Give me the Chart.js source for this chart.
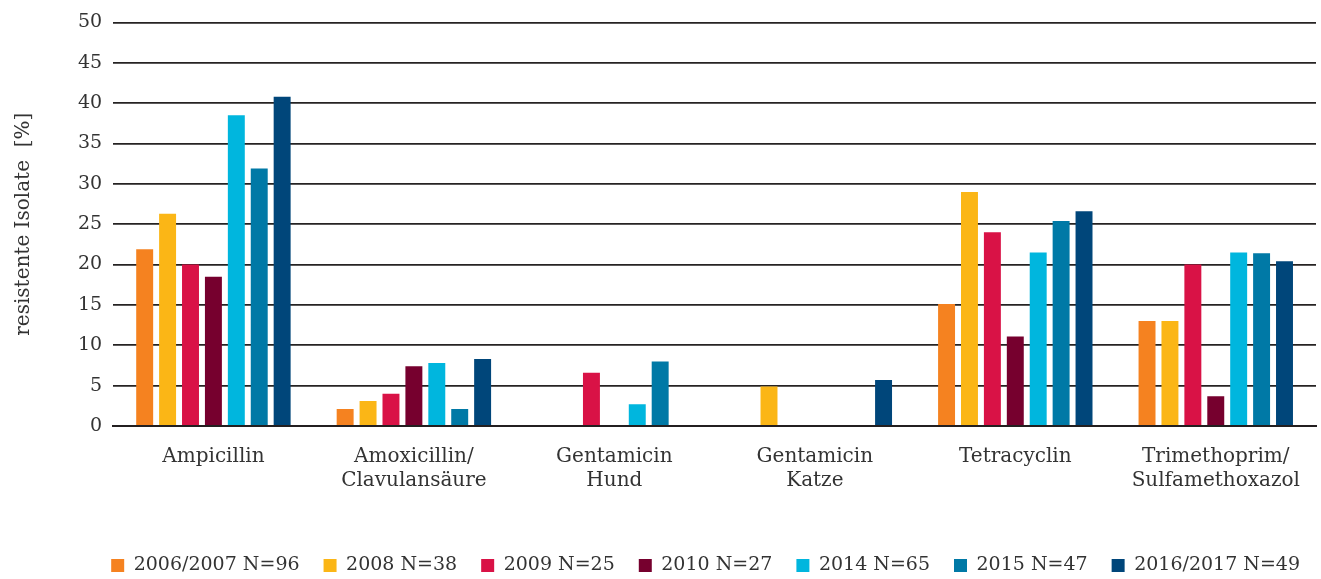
<!DOCTYPE html>
<html>
<head>
<meta charset="utf-8">
<script src="https://cdn.jsdelivr.net/npm/chart.js@4"></script>
<style>
  body { margin: 0; background: #fff; }
  #wrap { width: 1321px; height: 579px; }
</style>
</head>
<body>
<div id="wrap"><canvas id="myChart"></canvas></div>
<script>
// categories (multi-line labels)
let categories = ["Ampicillin", ["Amoxicillin/", "Clavulansäure"], ["Gentamicin", "Hund"], ["Gentamicin", "Katze"], "Tetracyclin", ["Trimethoprim/", "Sulfamethoxazol"]];

// series values, resistant isolates in %
let s2006 = [21.9, 2.1, 0, 0, 15.1, 13.0];
let s2008 = [26.3, 3.1, 0, 4.9, 29.0, 13.0];
let s2009 = [20.0, 4.0, 6.6, 0, 24.0, 20.0];
let s2010 = [18.5, 7.4, 0, 0, 11.1, 3.7];
let s2014 = [38.5, 7.8, 2.7, 0, 21.5, 21.5];
let s2015 = [31.9, 2.1, 8.0, 0, 25.4, 21.4];
let s2016 = [40.8, 8.3, 0, 5.7, 26.6, 20.4];

let seriesNames = ["2006/2007 N=96", "2008 N=38", "2009 N=25", "2010 N=27", "2014 N=65", "2015 N=47", "2016/2017 N=49"];
let colors = ["#F58220", "#FBB616", "#D91246", "#76002E", "#00B6DE", "#0079A6", "#00467A"];
let allSeries = [s2006, s2008, s2009, s2010, s2014, s2015, s2016];

let fontFam = "'DejaVu Serif', serif";
let textCol = "#333333";

let datasets = allSeries.map(function(vals, i){
    return {
        label: seriesNames[i],
        data: vals,
        backgroundColor: colors[i],
        categoryPercentage: 0.8,
        barPercentage: 0.74
    };
});

// nudge the legend a little to the right, like the original
let legendShift = {
    id: "legendShift",
    afterLayout: function(chart){
        chart.legend.left += 8;
        chart.legend.right += 8;
    }
};

let ctx = document.getElementById("myChart").getContext('2d');
let myChart = new Chart(ctx, {
    type: "bar",
    data: {
        labels: categories,
        datasets: datasets
    },
    plugins: [legendShift],
    options: {
        responsive: true,
        maintainAspectRatio: false,
        animation: false,
        layout: { padding: { top: 0, right: 5, left: 8, bottom: -6 } },
        plugins: {
            tooltip: { enabled: false },
            legend: {
                position: "bottom",
                align: "end",
                labels: {
                    boxWidth: 13,
                    boxHeight: 13,
                    padding: 24,
                    color: textCol,
                    font: { family: fontFam, size: 19 }
                }
            }
        },
        scales: {
            x: {
                grid: { display: false },
                border: { display: true, color: "#231f20", width: 2 },
                ticks: {
                    color: textCol,
                    font: { family: fontFam, size: 20 },
                    maxRotation: 0,
                    padding: 11
                },
                afterFit: function(scale){ scale.height += 28; }
            },
            y: {
                min: 0,
                max: 50,
                ticks: {
                    stepSize: 5,
                    color: textCol,
                    font: { family: fontFam, size: 19 },
                    padding: 11
                },
                grid: { color: "#262323", lineWidth: 1.8, drawTicks: false },
                border: { display: false },
                title: {
                    display: true,
                    text: "resistente Isolate  [%]",
                    color: textCol,
                    font: { family: fontFam, size: 20 },
                    padding: { bottom: 24 }
                },
                afterFit: function(scale){ scale.width += 7; }
            }
        }
    }
});
</script>
</body>
</html>
